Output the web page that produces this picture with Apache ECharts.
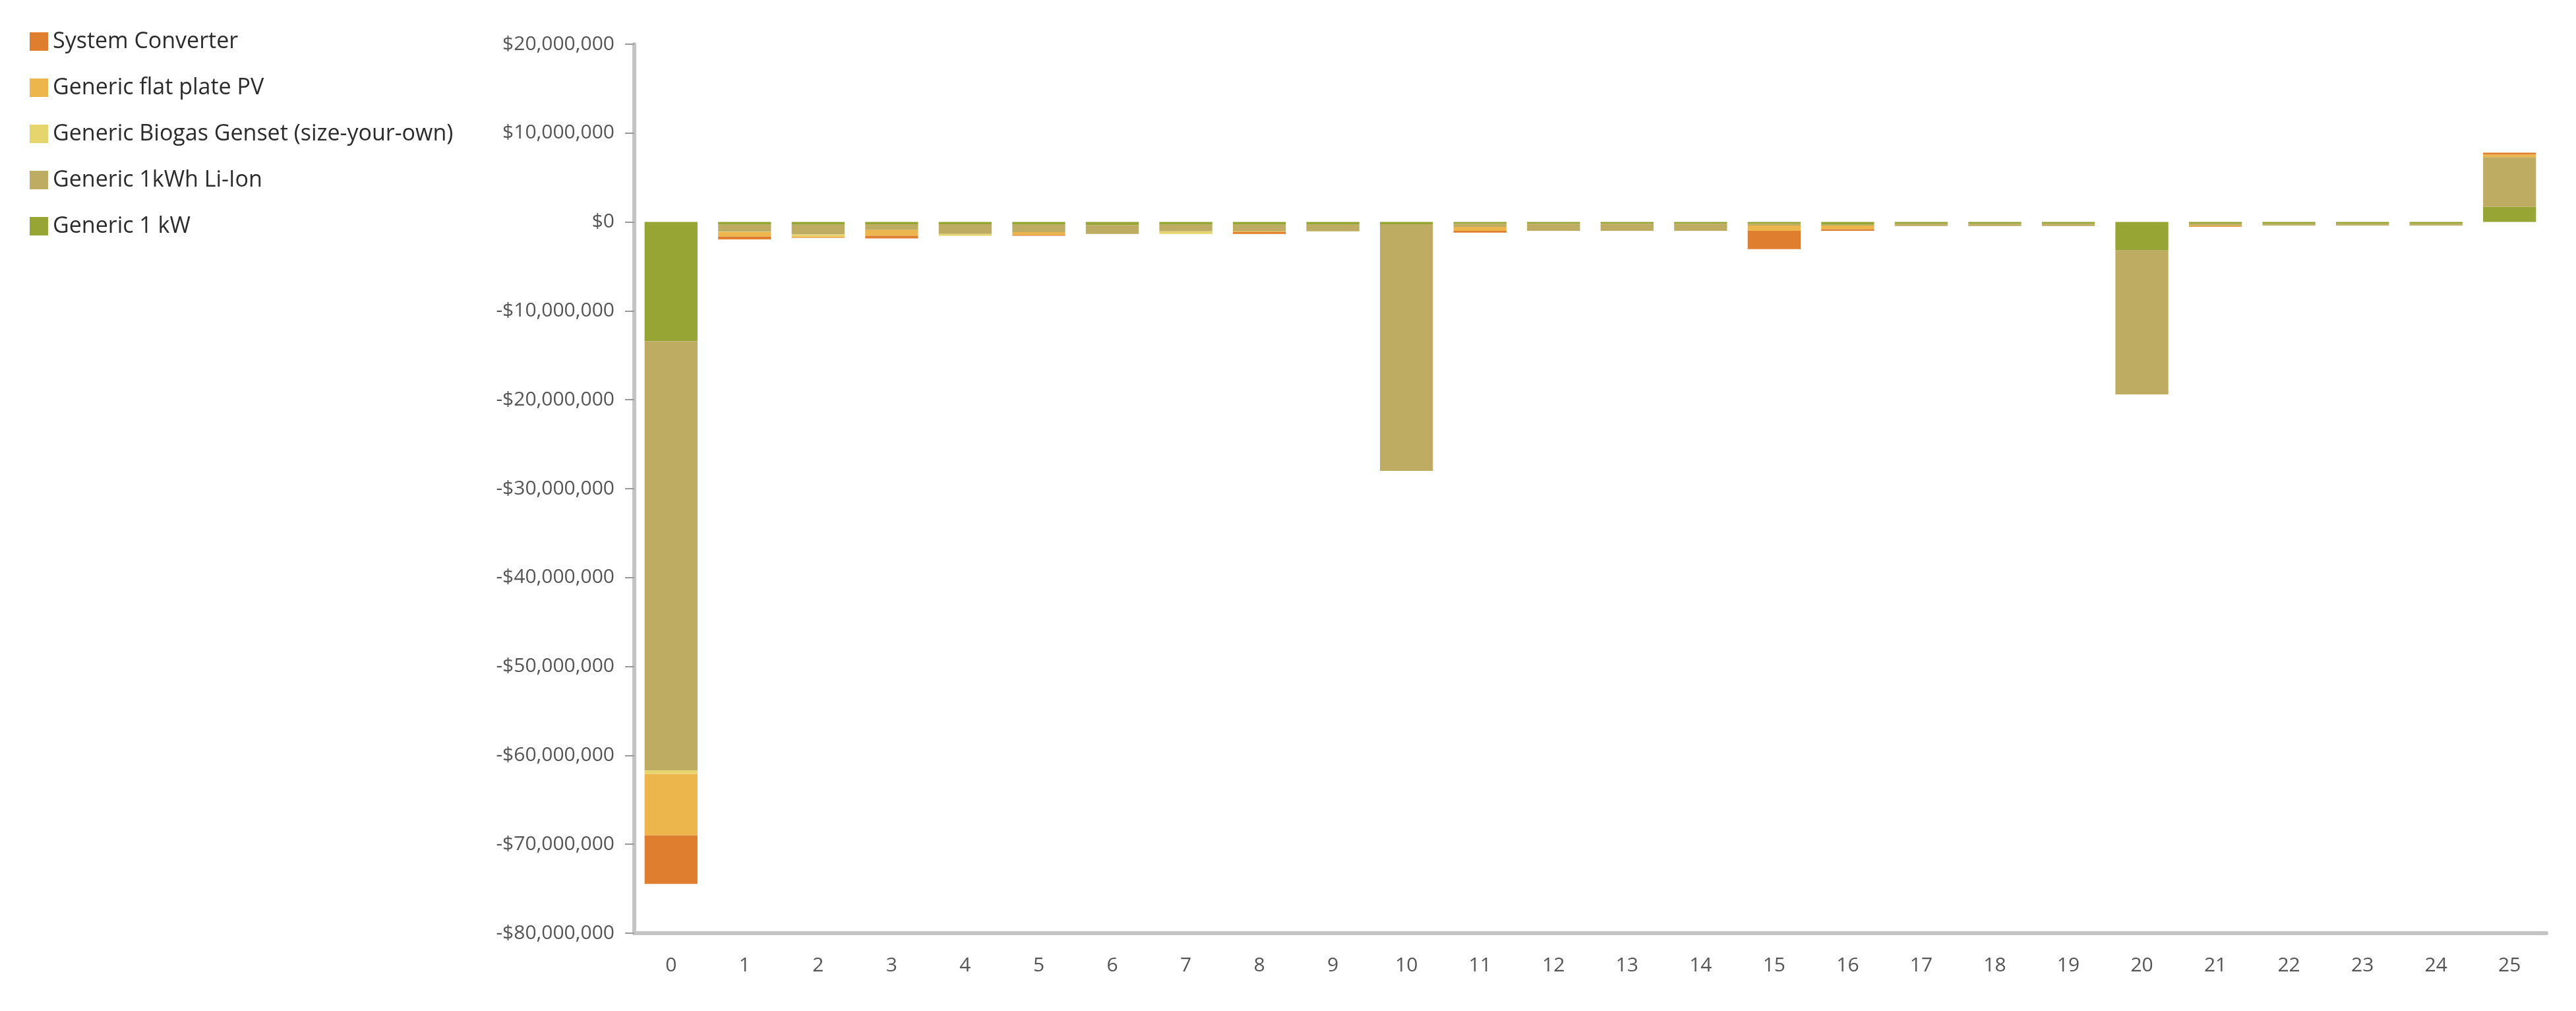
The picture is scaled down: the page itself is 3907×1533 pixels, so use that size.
<!DOCTYPE html>
<html>
<head>
<meta charset="utf-8">
<script src="https://cdn.jsdelivr.net/npm/echarts@6/dist/echarts.min.js"></script>
<style>
  html, body { margin: 0; padding: 0; background: #fff; }
  #main { width: 3907px; height: 1533px; }
</style>
</head>
<body>
<div id="main"></div>
<script>
// years along the x axis
let years = ['0','1','2','3','4','5','6','7','8','9','10','11','12','13','14','15','16','17','18','19','20','21','22','23','24','25'];

// cash flow per component, in millions of dollars
let gen1kW    = [-13.4,-0.3,-0.3,-0.25,-0.25,-0.3,-0.35,-0.3,-0.3,-0.3,-0.25,-0.2,-0.2,-0.2,-0.2,-0.2,-0.3,-0.2,-0.2,-0.2,-3.2,-0.2,-0.2,-0.2,-0.2,1.7];
let liIon     = [-48.3,-0.8,-1.1,-0.65,-1.1,-0.85,-1.0,-0.75,-0.75,-0.75,-27.75,-0.35,-0.8,-0.8,-0.8,-0.2,-0.1,-0.25,-0.25,-0.25,-16.2,-0.2,-0.2,-0.2,-0.2,5.6];
let biogas    = [-0.4,-0.05,-0.2,0,-0.2,0,0,-0.3,0,0,0,0,0,0,0,0,0,0,0,0,0,0,0,0,0,0];
let flatPV    = [-6.9,-0.5,-0.15,-0.65,0,-0.3,0,0,-0.1,0,0,-0.45,0,0,0,-0.6,-0.4,0,0,0,0,-0.1,0,0,0,0.3];
let converter = [-5.45,-0.3,-0.05,-0.3,0,-0.1,0,0,-0.2,0,0,-0.2,0,0,0,-2.05,-0.2,0,0,0,0,-0.05,0,0,0,0.2];

let names = ['System Converter', 'Generic flat plate PV', 'Generic Biogas Genset (size-your-own)', 'Generic 1kWh Li-Ion', 'Generic 1 kW'];
let colors = ['#E07E2F', '#EDB64C', '#E6D46C', '#BEAC62', '#97A534'];

let font = 'Open Sans';

let app = {};

app.money = function(v){
    let n = Math.round(Math.abs(v) * 1000000);
    let s = n.toString().replace(/\B(?=(\d{3})+(?!\d))/g, ',');
    return (v < 0 ? '-$' : '$') + s;
};

app.bar = function(name, data, color){
    return {
        name: name,
        type: 'bar',
        stack: 'total',
        barWidth: '72%',
        data: data,
        itemStyle: { color: color },
        emphasis: { disabled: true }
    };
};

let myChart = echarts.init(document.getElementById('main'));
let option = {
    animation: false,
    backgroundColor: '#ffffff',
    legend: {
        orient: 'vertical',
        left: 40,
        top: 41,
        icon: 'rect',
        itemWidth: 28,
        itemHeight: 28,
        itemGap: 36,
        data: names,
        textStyle: { fontFamily: font, fontSize: 34, color: '#2b2b2b', padding: [0, 0, 0, 2] }
    },
    grid: { left: 962, right: 45, top: 67, bottom: 118 },
    xAxis: {
        type: 'category',
        data: years,
        axisLine: { onZero: false, lineStyle: { color: '#c4c4c4', width: 6 } },
        axisTick: { length: 14, lineStyle: { color: '#999999', width: 2 } },
        axisLabel: { fontFamily: font, fontSize: 30, color: '#555555', margin: 34 }
    },
    yAxis: {
        type: 'value',
        min: -80,
        max: 20,
        interval: 10,
        splitLine: { show: false },
        axisLine: { show: true, lineStyle: { color: '#c4c4c4', width: 6 } },
        axisTick: { show: true, length: 14, lineStyle: { color: '#999999', width: 2 } },
        axisLabel: {
            fontFamily: font, fontSize: 30, color: '#555555', margin: 30,
            formatter: function(v){ return app.money(v); }
        }
    },
    // stacked from the zero line outwards: 1 kW first, converter last
    series: [
        app.bar(names[4], gen1kW, colors[4]),
        app.bar(names[3], liIon, colors[3]),
        app.bar(names[2], biogas, colors[2]),
        app.bar(names[1], flatPV, colors[1]),
        app.bar(names[0], converter, colors[0])
    ]
};
myChart.setOption(option);
</script>
</body>
</html>
